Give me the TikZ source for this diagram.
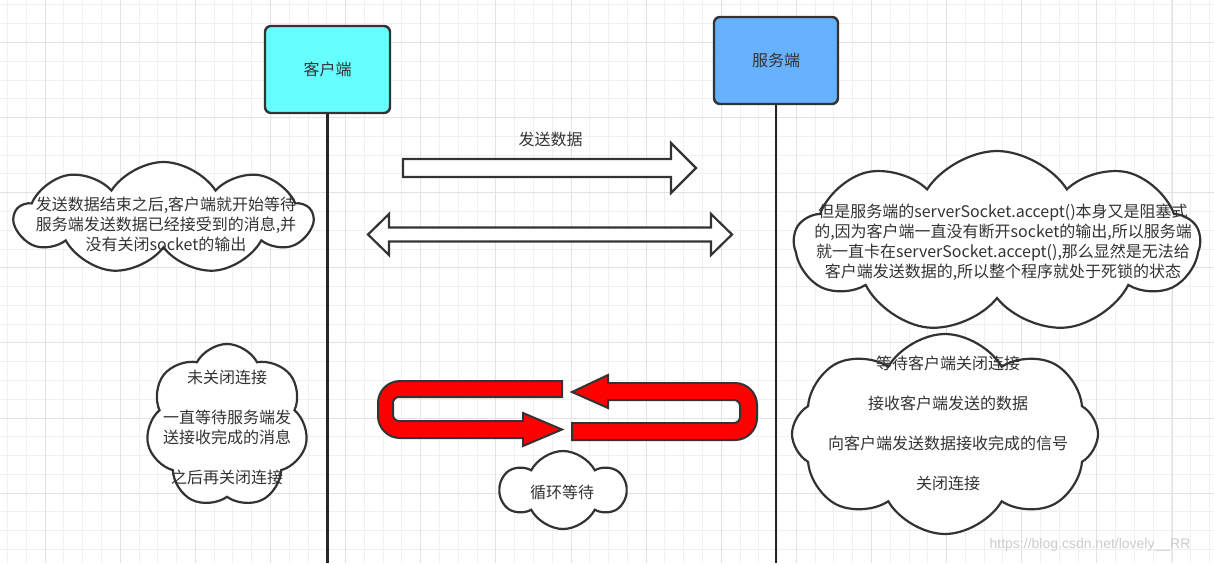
\documentclass[tikz,border=0pt]{standalone}
\usepackage{fontspec}
\newfontfamily\cjk{Noto Sans CJK SC}
\newfontfamily\urlfont{Liberation Sans}
\usetikzlibrary{shapes.symbols}
\definecolor{clientcyan}{HTML}{66FFFF}
\definecolor{serverblue}{HTML}{66B2FF}
\definecolor{inkgrey}{HTML}{333333}
\definecolor{minorgrid}{HTML}{F0F0F0}
\definecolor{majorgrid}{HTML}{E2E2E2}
\tikzset{
  txt/.style={font=\cjk\fontsize{16}{20}\selectfont, text=inkgrey, align=center, inner sep=0pt},
  lane/.style={
    draw=inkgrey, line width=2.4pt, rounded corners=6pt, txt,
    minimum width=125pt, minimum height=87pt
  },
  lifeline/.style={draw=black!85, line width=2.2pt},
  bubble/.style={
    cloud, draw=inkgrey, fill=white, line width=2.2pt, cloud puffs=9,
    cloud puff arc=115, cloud ignores aspect, inner sep=0pt
  },
  hollow/.style={draw=inkgrey, fill=white, line width=2.2pt, line join=miter},
  loopback/.style={draw=inkgrey, fill=red, line width=2pt, line join=miter},
}

\begin{document}
\begin{tikzpicture}[x=1pt, y=-1pt]
  \useasboundingbox (0,0) rectangle (1214,563);
  % grid
  \foreach \i in {0,...,64}
    \draw[minorgrid, line width=1pt] ({7.6+18.78*\i},0) -- ++(0,563);
  \foreach \j in {0,...,29}
    \draw[minorgrid, line width=1pt] (0,{4.9+18.78*\j}) -- ++(1214,0);
  \foreach \i in {0,...,15}
    \draw[majorgrid, line width=1pt] ({45.2+75.12*\i},0) -- ++(0,563);
  \foreach \j in {0,...,7}
    \draw[majorgrid, line width=1pt] (0,{42.5+75.12*\j}) -- ++(1214,0);

  % lanes
  \node[lane, fill=clientcyan] (client) at (327.5,69.5) {客户端};
  \node[lane, fill=serverblue, minimum width=124pt] (server) at (776,60.5) {服务端};
  \coordinate (clientend) at (327.5,563);
  \coordinate (serverend) at (776,563);
  \draw[lifeline] (client.south) -- (clientend);
  \draw[lifeline] (server.south) -- (serverend);

  % block arrows
  \draw[hollow] (403,159) -- (671,159) -- (671,143) -- (696,168) -- (671,193)
    -- (671,177) -- (403,177) -- cycle;
  \node[txt] (sendlabel) at (550.5,139) {发送数据};
  \draw[hollow] (368,234.5) -- (389,214) -- (389,227.5) -- (711,227.5) -- (711,214)
    -- (732,234.5) -- (711,255) -- (711,241.5) -- (389,241.5) -- (389,255) -- cycle;

  % clouds
  \node[bubble, minimum width=297pt, minimum height=112pt] (waitcloud) at (163.5,218) {};
  \node[txt] (waittext) at (166,224.5) {发送数据结束之后,客户端就开始等待\\服务端发送数据已经接受到的消息,并\\没有关闭socket的输出};
  \node[bubble, minimum width=405pt, minimum height=182pt] (blockcloud) at (997,242) {};
  \node[txt] (blocktext) at (1003,242.5) {但是服务端的serverSocket.accept()本身又是阻塞式\\的,因为客户端一直没有断开socket的输出,所以服务端\\就一直卡在serverSocket.accept(),那么显然是无法给\\客户端发送数据的,所以整个程序就处于死锁的状态};
  \node[bubble, cloud puffs=7, cloud puff arc=125, minimum width=162pt, minimum height=164pt] (clientcloud) at (227,426) {};
  \node[txt] (clienttext) at (227,427) {未关闭连接\\[20pt]一直等待服务端发\\送接收完成的消息\\[20pt]之后再关闭连接};
  \node[bubble, cloud puffs=8, cloud puff arc=120, minimum width=306pt, minimum height=200pt] (servercloud) at (945,434) {};
  \node[txt] (servertext) at (948,423.5) {等待客户端关闭连接\\[20pt]接收客户端发送的数据\\[20pt]向客户端发送数据接收完成的信号\\[20pt]关闭连接};
  \node[bubble, cloud puffs=6, cloud puff arc=125, minimum width=124pt, minimum height=78pt] (loopcloud) at (563,490) {};
  \node[txt] (looptext) at (562,492) {循环等待};

  % red loop arrows
  \draw[loopback] (562,381) [rounded corners=22pt] -- (378,381) -- (378,438) -- (450,438)
    [sharp corners] -- (523,438) -- (523,446) -- (562,429.5) -- (523,413) -- (523,421)
    -- (470,421) [rounded corners=6pt] -- (393,421) -- (393,397) -- (470,397)
    [sharp corners] -- (562,397) -- cycle;
  \draw[loopback] (572,392) -- (608,375) -- (608,383) -- (680,383)
    [rounded corners=22pt] -- (757,383) -- (757,440) -- (680,440)
    [sharp corners] -- (572,440) -- (572,423) -- (660,423)
    [rounded corners=6pt] -- (740,423) -- (740,400) -- (660,400)
    [sharp corners] -- (608,400) -- (608,408) -- cycle;

  \node[font=\urlfont\fontsize{14}{14}\selectfont, text=black!20, inner sep=0pt] (mark) at (1090,545) {https://blog.csdn.net/lovely\_\_RR};
\end{tikzpicture}
\end{document}
